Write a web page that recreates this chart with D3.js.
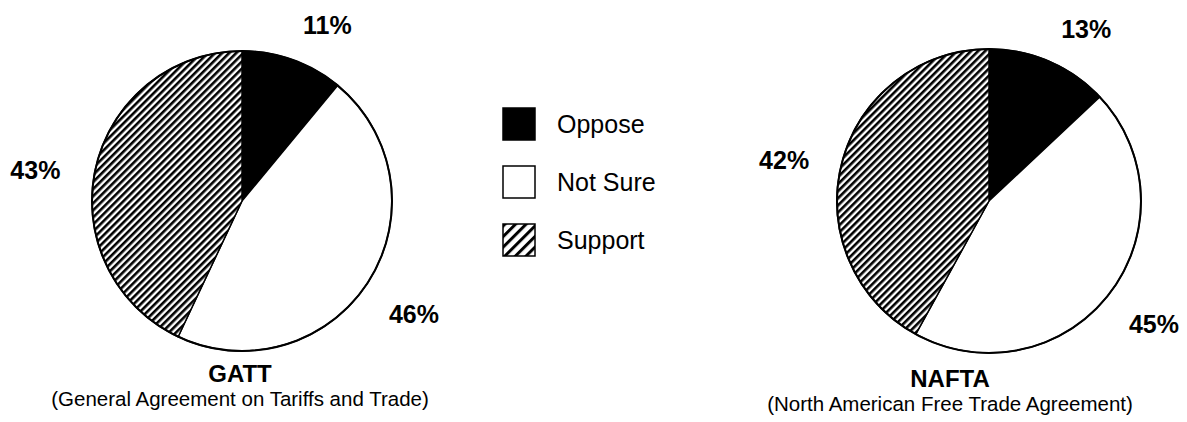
<!DOCTYPE html>
<html>
<head>
<meta charset="utf-8">
<script src="https://cdn.jsdelivr.net/npm/d3@7"></script>
<style>
  body { margin: 0; background: #fff; }
  text { font-family: "Liberation Sans", Arial, Helvetica, sans-serif; fill: #000; }
</style>
</head>
<body>
<div id="chart"></div>
<script>
// data
const categories = ["Oppose", "Not Sure", "Support"];
const gattValues = [11, 46, 43];
const naftaValues = [13, 45, 42];
const pieNames = ["GATT", "NAFTA"];
const pieSubtitles = ["(General Agreement on Tariffs and Trade)", "(North American Free Trade Agreement)"];

const width = 1187, height = 422;

const svg = d3.select("#chart")
  .append("svg")
    .attr("width", width)
    .attr("height", height);

// hatch patterns for "Support"
const defs = svg.append("defs");
function hatch(id, step, lw) {
  const p = defs.append("pattern")
    .attr("id", id)
    .attr("patternUnits", "userSpaceOnUse")
    .attr("width", step)
    .attr("height", step)
    .attr("patternTransform", "rotate(45)");
  p.append("rect").attr("width", step).attr("height", step).attr("fill", "#fff");
  p.append("rect").attr("width", lw).attr("height", step).attr("fill", "#000");
}
hatch("hatchPie", 5, 2.6);
hatch("hatchKey", 7.5, 3);

const pieFill = d3.scaleOrdinal().domain(categories).range(["#000", "#fff", "url(#hatchPie)"]);
const keyFill = d3.scaleOrdinal().domain(categories).range(["#000", "#fff", "url(#hatchKey)"]);

// layout of the two pies (label nudges in degrees / radius in px)
const pies = [
  {values: gattValues,  cx: 242, cy: 201, r: 150, titleX: 240, titleY: 382, subY: 406, labelShift: [6, 1, -4],  labelR: [196, 206, 209]},
  {values: naftaValues, cx: 989, cy: 201, r: 152, titleX: 950, titleY: 387, subY: 411, labelShift: [6, -1, -3], labelR: [198, 206, 209]}
];

const pie = d3.pie().sort(null).value(d => d);

pies.forEach((p, i) => {
  const g = svg.append("g").attr("transform", `translate(${p.cx},${p.cy})`);
  const arc = d3.arc().innerRadius(0).outerRadius(p.r);
  const slices = pie(p.values);

  g.selectAll("path")
    .data(slices)
    .join("path")
      .attr("d", arc)
      .attr("fill", (d, j) => pieFill(categories[j]))
      .attr("stroke", "#000")
      .attr("stroke-width", 1.5)
      .attr("stroke-linejoin", "round");

  g.append("circle")
    .attr("r", p.r)
    .attr("fill", "none")
    .attr("stroke", "#000")
    .attr("stroke-width", 2);

  // percentage labels
  g.selectAll("text.pct")
    .data(slices)
    .join("text")
      .attr("class", "pct")
      .attr("x", (d, j) => p.labelR[j] * Math.sin((d.startAngle + d.endAngle) / 2 + p.labelShift[j] * Math.PI / 180))
      .attr("y", (d, j) => -p.labelR[j] * Math.cos((d.startAngle + d.endAngle) / 2 + p.labelShift[j] * Math.PI / 180))
      .attr("text-anchor", "middle")
      .attr("dominant-baseline", "central")
      .style("font-size", "25px")
      .style("font-weight", "bold")
      .text(d => d.data + "%");

  svg.append("text")
    .attr("x", p.titleX)
    .attr("y", p.titleY)
    .attr("text-anchor", "middle")
    .style("font-size", "24px")
    .style("font-weight", "bold")
    .text(pieNames[i]);

  svg.append("text")
    .attr("x", p.titleX)
    .attr("y", p.subY)
    .attr("text-anchor", "middle")
    .style("font-size", "20.5px")
    .text(pieSubtitles[i]);
});

// legend
const legend = svg.append("g").attr("transform", "translate(503,108)");
const rows = legend.selectAll("g")
  .data(categories)
  .join("g")
    .attr("transform", (d, i) => `translate(0,${i * 58})`);

rows.append("rect")
  .attr("width", 32)
  .attr("height", 32)
  .attr("fill", d => keyFill(d))
  .attr("stroke", "#000")
  .attr("stroke-width", 1.5);

rows.append("text")
  .attr("x", 54)
  .attr("y", 25)
  .style("font-size", "25px")
  .text(d => d);
</script>
</body>
</html>
